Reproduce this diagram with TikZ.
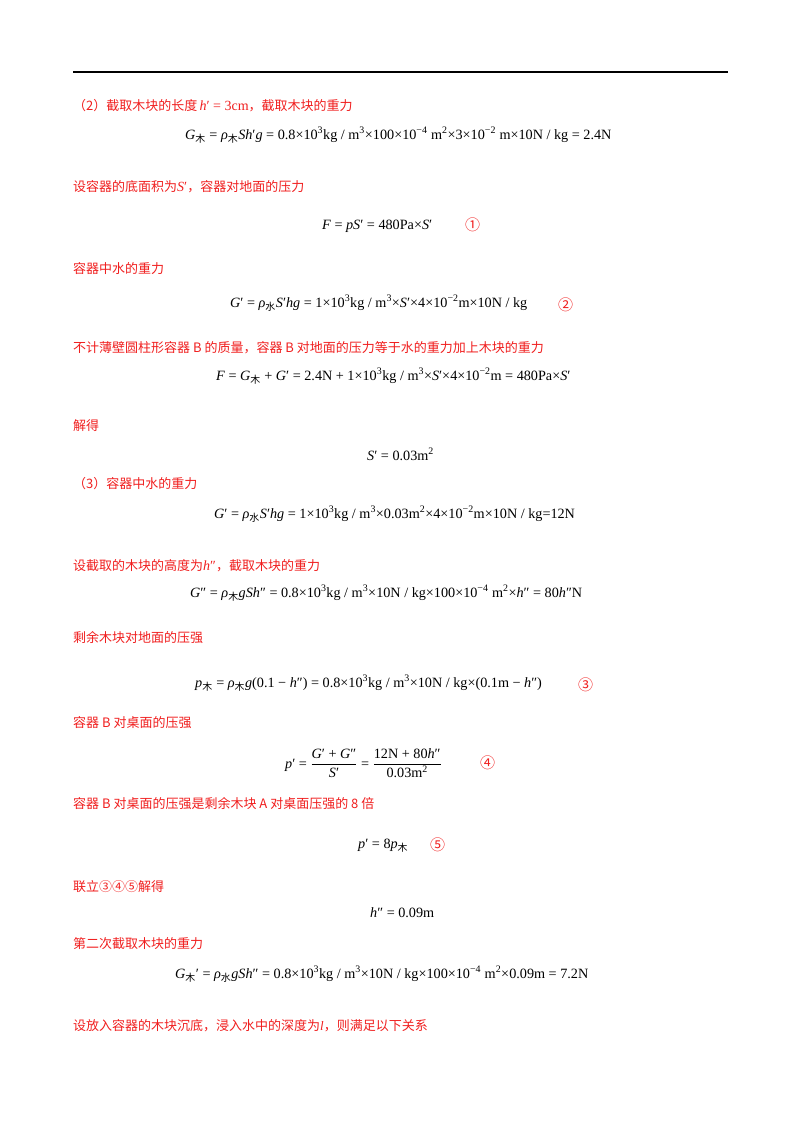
\documentclass[tikz,border=0pt]{standalone}
\usepackage{fontspec}
\setmainfont{Liberation Serif}
\newfontfamily\cjk{Noto Sans CJK SC}
\newcommand{\iv}[1]{\textit{#1}}
\newcommand{\lsb}[1]{\textsubscript{\cjk #1}}
\newcommand{\usp}[1]{\textsuperscript{#1}}
\definecolor{ansred}{RGB}{240,30,30}
\tikzset{
  txt/.style={anchor=base west,inner sep=0pt,text=ansred,font=\cjk\fontsize{13}{15}\selectfont},
  eq/.style={anchor=base west,inner sep=0pt,font=\fontsize{14.2}{16}\selectfont},
  circ/.style={anchor=base west,inner sep=0pt,text=ansred,font=\cjk\fontsize{15}{17}\selectfont}
}
\begin{document}
\begin{tikzpicture}[x=1pt,y=-1pt]
\useasboundingbox (0,0) rectangle (800,1132);
\draw[line width=1.2pt] (73,72) -- (728,72);
\node[txt] (t1) at (73,110) {（2）截取木块的长度\,{\rmfamily\fontsize{14}{16}\selectfont\iv{h}′ = 3cm}，截取木块的重力};
\node[eq] (e1) at (185,139) {\iv{G}\lsb{木} = \iv{ρ}\lsb{木}\iv{Sh}′\iv{g} = 0.8×10\usp{3}kg / m\usp{3}×100×10\usp{−4} m\usp{2}×3×10\usp{−2} m×10N / kg = 2.4N};
\node[txt] (t2) at (73,191) {设容器的底面积为{\rmfamily\fontsize{14}{16}\selectfont\iv{S}′}，容器对地面的压力};
\node[eq] (e2) at (322,229) {\iv{F} = \iv{pS}′ = 480Pa×\iv{S}′};
\node[circ] (c1) at (465,230) {①};
\node[txt] (t3) at (73,273) {容器中水的重力};
\node[eq] (e3) at (230,307) {\iv{G}′ = \iv{ρ}\lsb{水}\iv{S}′\iv{hg} = 1×10\usp{3}kg / m\usp{3}×\iv{S}′×4×10\usp{−2}m×10N / kg};
\node[circ] (c2) at (558,310) {②};
\node[txt] (t4) at (73,352) {不计薄壁圆柱形容器 B 的质量，容器 B 对地面的压力等于水的重力加上木块的重力};
\node[eq] (e4) at (216,380) {\iv{F} = \iv{G}\lsb{木} + \iv{G}′ = 2.4N + 1×10\usp{3}kg / m\usp{3}×\iv{S}′×4×10\usp{−2}m = 480Pa×\iv{S}′};
\node[txt] (t5) at (73,430) {解得};
\node[eq] (e5) at (367,460) {\iv{S}′ = 0.03m\usp{2}};
\node[txt] (t6) at (73,488) {（3）容器中水的重力};
\node[eq] (e6) at (214,518) {\iv{G}′ = \iv{ρ}\lsb{水}\iv{S}′\iv{hg} = 1×10\usp{3}kg / m\usp{3}×0.03m\usp{2}×4×10\usp{−2}m×10N / kg=12N};
\node[txt] (t7) at (73,570) {设截取的木块的高度为{\rmfamily\fontsize{14}{16}\selectfont\iv{h}″}，截取木块的重力};
\node[eq] (e7) at (190,597) {\iv{G}″ = \iv{ρ}\lsb{木}\iv{gSh}″ = 0.8×10\usp{3}kg / m\usp{3}×10N / kg×100×10\usp{−4} m\usp{2}×\iv{h}″ = 80\iv{h}″N};
\node[txt] (t8) at (73,642) {剩余木块对地面的压强};
\node[eq] (e8) at (195,687) {\iv{p}\lsb{木} = \iv{ρ}\lsb{木}\iv{g}(0.1 − \iv{h}″) = 0.8×10\usp{3}kg / m\usp{3}×10N / kg×(0.1m − \iv{h}″)};
\node[circ] (c3) at (578,690) {③};
\node[txt] (t9) at (73,727) {容器 B 对桌面的压强};
\node[eq] (e9) at (285,768) {\iv{p}′ = $\displaystyle\frac{\mbox{\iv{G}′ + \iv{G}″}}{\mbox{\iv{S}′}}$ = $\displaystyle\frac{\mbox{12N + 80\iv{h}″}}{\mbox{0.03m\usp{2}}}$};
\node[circ] (c4) at (480,768) {④};
\node[txt] (t10) at (73,808) {容器 B 对桌面的压强是剩余木块 A 对桌面压强的 8 倍};
\node[eq] (e10) at (358,848) {\iv{p}′ = 8\iv{p}\lsb{木}};
\node[circ] (c5) at (430,850) {⑤};
\node[txt] (t11) at (73,891) {联立③④⑤解得};
\node[eq] (e11) at (370,917) {\iv{h}″ = 0.09m};
\node[txt] (t12) at (73,948) {第二次截取木块的重力};
\node[eq] (e12) at (175,978) {\iv{G}\lsb{木}′ = \iv{ρ}\lsb{水}\iv{gSh}″ = 0.8×10\usp{3}kg / m\usp{3}×10N / kg×100×10\usp{−4} m\usp{2}×0.09m = 7.2N};
\node[txt] (t13) at (73,1030) {设放入容器的木块沉底，浸入水中的深度为{\rmfamily\iv{l}}，则满足以下关系};
\end{tikzpicture}
\end{document}
